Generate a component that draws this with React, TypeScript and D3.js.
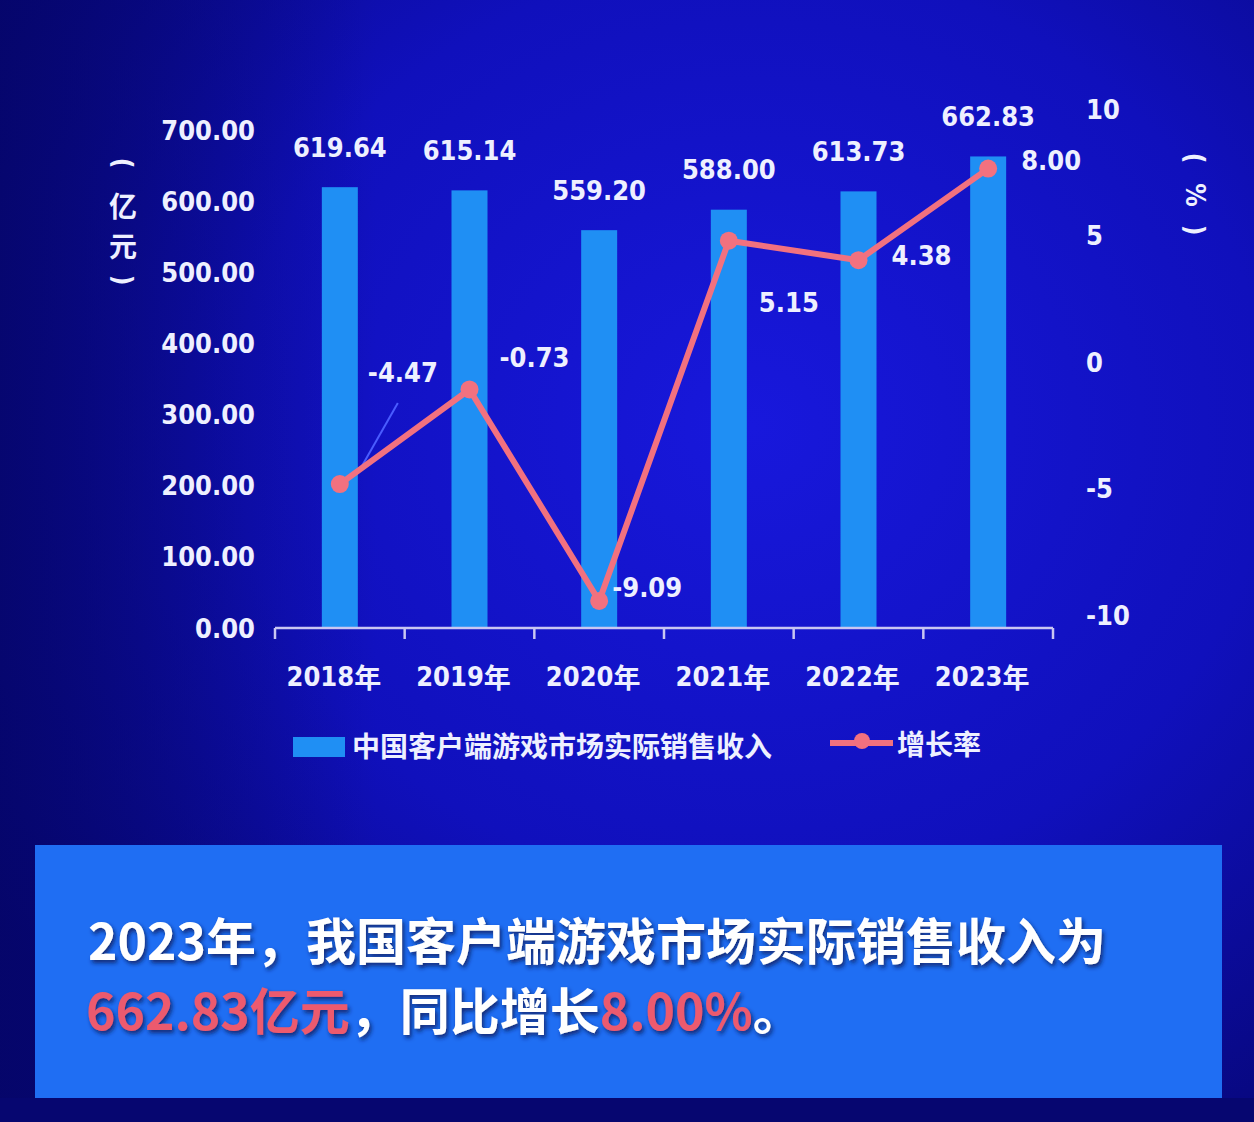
import React from "react";
import * as d3 from "d3";

const years = ["2018年", "2019年", "2020年", "2021年", "2022年", "2023年"];
const revenue = [619.64, 615.14, 559.2, 588.0, 613.73, 662.83];
const growth = [-4.47, -0.73, -9.09, 5.15, 4.38, 8.0];
const leftTicks = [0, 100, 200, 300, 400, 500, 600, 700];
const rightTicks = [-10, -5, 0, 5, 10];
const barLegend = "中国客户端游戏市场实际销售收入";
const lineLegend = "增长率";
const leftTitle = ["(", "亿", "元", ")"];
const rightTitle = ["(", "%", ")"];
const captionLine1 = "2023年，我国客户端游戏市场实际销售收入为";
const captionLine2 = [
  { t: "662.83亿元", red: true },
  { t: "，同比增长", red: false },
  { t: "8.00%", red: true },
  { t: "。", red: false },
];

// label offsets (style) for growth labels, relative to point
const growthLabelOffsets = [
  [63, -112],
  [65, -32],
  [48, -13],
  [60, 62],
  [63, -5],
  [63, -8],
];

const W = 1254;
const H = 1122;
const NUM_FONT = "'DejaVu Sans Condensed', 'DejaVu Sans', sans-serif";
const CJK_FONT = "'Noto Sans CJK SC', 'Noto Sans', sans-serif";

export default function App() {
  const x = d3.scaleBand<string>().domain(years).range([275, 1053]).padding(0);
  const yL = d3.scaleLinear().domain([0, 700]).range([628, 130]);
  const yR = d3.scaleLinear().domain([-10, 10]).range([624, 118]);
  const barW = 36;
  const cx = (i: number) => (x(years[i]) as number) + x.bandwidth() / 2;

  const pts: [number, number][] = growth.map((g, i) => [cx(i), yR(g)]);
  const line = d3.line<[number, number]>()(pts) as string;

  const lineColor = "#f2717f";
  const barColor = "#1f8ff4";
  const textColor = "#eef0ff";

  const boundaries = years.map((y) => x(y) as number).concat([x.range()[1]]);

  const isParen = (c: string) => c === "(" || c === ")";

  return (
    <>
      <style>{`body{margin:0;}`}</style>
      <svg width={W} height={H} style={{ display: "block" }}>
        <defs>
          <radialGradient id="bg" cx="0.6" cy="0.38" r="0.75">
            <stop offset="0" stopColor="#1818dc" />
            <stop offset="0.55" stopColor="#1010bc" />
            <stop offset="1" stopColor="#07077c" />
          </radialGradient>
          <linearGradient id="dark" x1="0" y1="0" x2="1" y2="0">
            <stop offset="0" stopColor="#050566" stopOpacity="0.8" />
            <stop offset="0.3" stopColor="#050566" stopOpacity="0" />
          </linearGradient>
          <filter id="shadow" x="-5%" y="-30%" width="110%" height="160%">
            <feDropShadow dx="2" dy="3" stdDeviation="2" floodColor="#0a1a60" floodOpacity="0.85" />
          </filter>
        </defs>
        <rect x={0} y={0} width={W} height={H} fill="url(#bg)" />
        <rect x={0} y={0} width={W} height={H} fill="url(#dark)" />
        <rect x={0} y={1098} width={W} height={24} fill="#060670" />

        {/* bars */}
        {revenue.map((v, i) => (
          <rect
            key={"b" + i}
            x={cx(i) - barW / 2}
            y={yL(v)}
            width={barW}
            height={yL(0) - yL(v)}
            fill={barColor}
          />
        ))}

        {/* x axis */}
        <line x1={x.range()[0]} x2={x.range()[1]} y1={628} y2={628} stroke="#c9c6f2" strokeWidth={2.5} />
        {boundaries.map((b, i) => (
          <line key={"t" + i} x1={b} x2={b} y1={628} y2={639} stroke="#c9c6f2" strokeWidth={2.5} />
        ))}
        {years.map((y, i) => (
          <text
            key={"xl" + i}
            x={cx(i) - 6}
            y={676}
            textAnchor="middle"
            dominantBaseline="central"
            fill={textColor}
            fontFamily={NUM_FONT}
            fontWeight="bold"
            fontSize={27}
          >
            {y.replace("年", "")}
            <tspan fontFamily={CJK_FONT} fontSize={27}>年</tspan>
          </text>
        ))}

        {/* left axis labels */}
        {leftTicks.map((t) => (
          <text
            key={"lt" + t}
            x={255}
            y={yL(t)}
            textAnchor="end"
            dominantBaseline="central"
            fill={textColor}
            fontFamily={NUM_FONT}
            fontWeight="bold"
            fontSize={27}
          >
            {t.toFixed(2)}
          </text>
        ))}
        {/* right axis labels */}
        {rightTicks.map((t) => (
          <text
            key={"rt" + t}
            x={1086}
            y={yR(t) - 9}
            textAnchor="start"
            dominantBaseline="central"
            fill={textColor}
            fontFamily={NUM_FONT}
            fontWeight="bold"
            fontSize={27}
          >
            {t}
          </text>
        ))}

        {/* axis titles */}
        {leftTitle.map((c, i) => {
          const yy = [163, 205, 245, 280][i];
          const rot = isParen(c);
          return (
            <text
              key={"ltt" + i}
              x={123}
              y={yy}
              textAnchor="middle"
              dominantBaseline="central"
              fill={textColor}
              fontFamily={rot ? NUM_FONT : CJK_FONT}
              fontWeight="bold"
              fontSize={rot ? 26 : 28}
              transform={rot ? `rotate(90 123 ${yy})` : undefined}
            >
              {c}
            </text>
          );
        })}
        {rightTitle.map((c, i) => {
          const yy = [158, 195, 230][i];
          return (
            <text
              key={"rtt" + i}
              x={1195}
              y={yy}
              textAnchor="middle"
              dominantBaseline="central"
              fill={textColor}
              fontFamily={NUM_FONT}
              fontWeight="bold"
              fontSize={26}
              transform={`rotate(90 1195 ${yy})`}
            >
              {c}
            </text>
          );
        })}

        {/* bar value labels */}
        {revenue.map((v, i) => (
          <text
            key={"bl" + i}
            x={cx(i)}
            y={yL(v) - 40}
            textAnchor="middle"
            dominantBaseline="central"
            fill={textColor}
            fontFamily={NUM_FONT}
            fontWeight="bold"
            fontSize={27}
          >
            {v.toFixed(2)}
          </text>
        ))}

        {/* leader line for first growth label */}
        <line
          x1={pts[0][0] + 21}
          y1={pts[0][1] - 16}
          x2={pts[0][0] + 58}
          y2={pts[0][1] - 81}
          stroke="#4a5cff"
          strokeWidth={2}
        />

        {/* growth line */}
        <path d={line} fill="none" stroke={lineColor} strokeWidth={6} strokeLinejoin="round" />
        {pts.map((p, i) => (
          <circle key={"c" + i} cx={p[0]} cy={p[1]} r={9} fill={lineColor} />
        ))}
        {growth.map((g, i) => (
          <text
            key={"gl" + i}
            x={pts[i][0] + growthLabelOffsets[i][0]}
            y={pts[i][1] + growthLabelOffsets[i][1]}
            textAnchor="middle"
            dominantBaseline="central"
            fill={textColor}
            fontFamily={NUM_FONT}
            fontWeight="bold"
            fontSize={27}
          >
            {g.toFixed(2)}
          </text>
        ))}

        {/* legend */}
        <rect x={293} y={737} width={52} height={20} fill={barColor} />
        <text
          x={352}
          y={745}
          dominantBaseline="central"
          fill={textColor}
          fontFamily={CJK_FONT}
          fontWeight="bold"
          fontSize={28}
        >
          {barLegend}
        </text>
        <line x1={830} x2={893} y1={743} y2={743} stroke={lineColor} strokeWidth={6} />
        <circle cx={862} cy={741} r={8} fill={lineColor} />
        <text
          x={897}
          y={743}
          dominantBaseline="central"
          fill={textColor}
          fontFamily={CJK_FONT}
          fontWeight="bold"
          fontSize={28}
        >
          {lineLegend}
        </text>

        {/* caption box */}
        <rect x={35} y={845} width={1187} height={253} fill="#1f6ef3" />
        <g filter="url(#shadow)">
          <text
            x={88}
            y={938}
            dominantBaseline="central"
            fill="#ffffff"
            fontFamily={CJK_FONT}
            fontWeight="bold"
            fontSize={50}
          >
            {captionLine1}
          </text>
          <text
            x={86}
            y={1008}
            dominantBaseline="central"
            fontFamily={CJK_FONT}
            fontWeight="bold"
            fontSize={50}
          >
            {captionLine2.map((s, i) => (
              <tspan key={"c2" + i} fill={s.red ? "#ec5a6e" : "#ffffff"}>
                {s.t}
              </tspan>
            ))}
          </text>
        </g>
      </svg>
    </>
  );
}
